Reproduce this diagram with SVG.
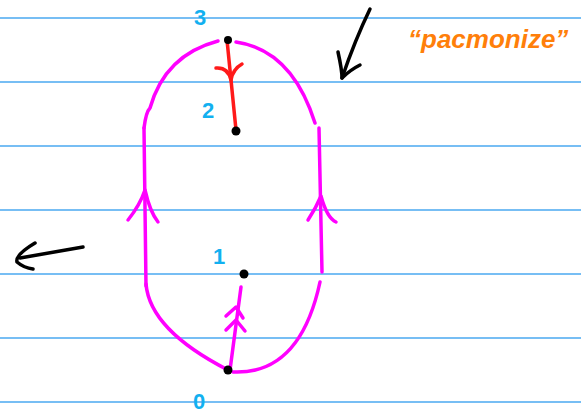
<svg xmlns="http://www.w3.org/2000/svg" width="581" height="413" viewBox="0 0 581 413">
<style>
.rule{stroke:#4aa8f0;stroke-width:1.5}
.mag{fill:none;stroke:#ff00ff;stroke-width:3.5;stroke-linecap:round;stroke-linejoin:round}
.red{fill:none;stroke:#ff1a1a;stroke-width:3.5;stroke-linecap:round;stroke-linejoin:round}
.blk{fill:none;stroke:#000;stroke-width:3.5;stroke-linecap:round;stroke-linejoin:round}
.dot{fill:#000}
.lbl{font-family:"Liberation Sans",Arial,sans-serif;font-weight:bold;fill:#12b0f0;font-size:22px}
.note{font-family:"Liberation Sans",Arial,sans-serif;font-style:italic;font-weight:bold;fill:#ff7f0a;font-size:26px}
</style>
<rect width="581" height="413" fill="#fff"/>
<g id="rules">
<line class="rule" x1="0" y1="18" x2="581" y2="18"/>
<line class="rule" x1="0" y1="82" x2="581" y2="82"/>
<line class="rule" x1="0" y1="146" x2="581" y2="146"/>
<line class="rule" x1="0" y1="210" x2="581" y2="210"/>
<line class="rule" x1="0" y1="274" x2="581" y2="274"/>
<line class="rule" x1="0" y1="338" x2="581" y2="338"/>
<line class="rule" x1="0" y1="402" x2="581" y2="402"/>
</g>
<g id="connectors">
<path class="mag" d="M144,128 Q146,112 150,108 Q165,55 218,41"/>
<path class="mag" d="M236,42 Q292,50 315,123"/>
<path class="mag" d="M144,128 L146,286"/>
<path class="mag" d="M128,220 Q140,205 145,190 Q150,212 158,222"/>
<path class="mag" d="M319,128 L322,272"/>
<path class="mag" d="M308,220 Q316,208 321,196 Q327,218 336,222"/>
<path class="mag" d="M146,284 Q150,330 228,370"/>
<path class="mag" d="M233,372 Q300,375 320,282"/>
<path class="mag" d="M230,370 L241,287"/>
<path class="mag" d="M226,316 L236,307 L243,318"/>
<path class="mag" d="M226,330 L236,320 L245,331"/>
<path class="red" d="M227,40 L236,130"/>
<path class="red" d="M216,68 Q228,67 231,80 Q233,69 242,64"/>
<path class="blk" d="M370,9 Q355,40 342,78"/>
<path class="blk" d="M338,52 Q342,70 342,78 Q350,70 360,65"/>
<path class="blk" d="M83,247 L20,258"/>
<path class="blk" d="M35,243 Q15,255 17,262 Q24,268 33,269"/>
</g>
<g id="n3"><circle class="dot" cx="228" cy="40" r="4"/><text class="lbl" x="194" y="25">3</text></g>
<g id="n2"><circle class="dot" cx="236" cy="131" r="4.5"/><text class="lbl" x="202" y="118">2</text></g>
<g id="n1"><circle class="dot" cx="244" cy="274" r="4.5"/><text class="lbl" x="213" y="264">1</text></g>
<g id="n0"><circle class="dot" cx="228" cy="370" r="4.5"/><text class="lbl" x="193" y="409" font-size="24">0</text></g>
<text class="note" x="408" y="48">“pacmonize”</text>
</svg>
